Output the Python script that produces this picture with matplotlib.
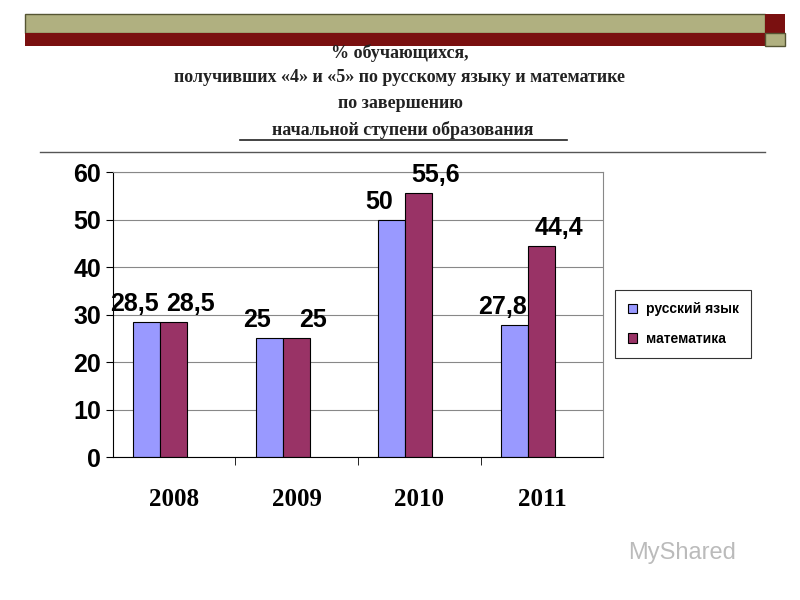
import matplotlib.pyplot as plt
from matplotlib.patches import Rectangle
import numpy as np

years = ['2008', '2009', '2010', '2011']
russian = [28.5, 25, 50, 27.8]
math = [28.5, 25, 55.6, 44.4]
russian_lbl = ['28,5', '25', '50', '27,8']
math_lbl = ['28,5', '25', '55,6', '44,4']

blue = '#9999FF'
red = '#993366'

fig = plt.figure(figsize=(8, 6), dpi=100)

# top decorative strip
deco = fig.add_axes([0, 0, 1, 1])
deco.set_xlim(0, 800)
deco.set_ylim(600, 0)
deco.axis('off')
deco.add_patch(Rectangle((25, 14), 740, 19, fc='#B0B080', ec='#555533', lw=1))
deco.add_patch(Rectangle((25, 33), 740, 13, fc='#7A1010', ec='none'))
deco.add_patch(Rectangle((765, 14), 20, 19, fc='#7A1010', ec='none'))
deco.add_patch(Rectangle((765, 33), 20, 13, fc='#B0B080', ec='#555533', lw=1))
deco.plot([40, 765], [152, 152], color='#555555', lw=1)

title_lines = ['% обучающихся,',
               'получивших «4» и «5» по русскому языку и математике',
               'по завершению']
for y, t in zip([53, 77, 104], title_lines):
    deco.text(400, y, t, ha='center', va='center', fontsize=13, fontweight='bold',
              family='Liberation Serif', color='#222222')
deco.text(403, 130, 'начальной ступени образования', ha='center', va='center',
          fontsize=13, fontweight='bold', family='Liberation Serif', color='#222222')
deco.plot([240, 567], [140, 140], color='#222222', lw=1.2)
deco.text(682, 553, 'MyShared', ha='center', va='center', fontsize=17, color='#BBBBBB',
          family='Liberation Sans')

ax = fig.add_axes([0.141, 0.238, 0.613, 0.475])
x = np.arange(len(years))
w = 0.22
off = -0.115
b1 = ax.bar(x - w + off, russian, w, color=blue, edgecolor='black', lw=0.8, align='edge')
b2 = ax.bar(x + off, math, w, color=red, edgecolor='black', lw=0.8, align='edge')
for i in range(len(years)):
    ax.text(x[i] + off - w / 2 - 0.1, russian[i] + 1.3, russian_lbl[i], ha='center', va='bottom',
            fontsize=18, fontweight='bold', family='Liberation Sans')
    ax.text(x[i] + off + w / 2 + 0.14, math[i] + 1.3, math_lbl[i], ha='center', va='bottom',
            fontsize=18, fontweight='bold', family='Liberation Sans')

ax.set_xlim(-0.5, 3.5)
ax.set_ylim(0, 60)
ax.set_yticks(range(0, 61, 10))
ax.set_xticks(x)
ax.set_xticklabels(years, fontsize=18, fontweight='bold', family='Liberation Serif')
ax.tick_params(axis='x', length=0, pad=22)
ax.set_xticks([0.5, 1.5, 2.5], minor=True)
ax.tick_params(axis='x', which='minor', length=6, direction='out')
for lab in ax.get_yticklabels():
    lab.set_fontsize(18)
    lab.set_fontweight('bold')
    lab.set_family('Liberation Sans')
ax.tick_params(axis='y', length=5, direction='out')
ax.yaxis.grid(True, color='#888888', lw=0.8)
ax.set_axisbelow(True)
for s in ax.spines.values():
    s.set_color('#888888')
ax.spines['left'].set_color('black')
ax.spines['bottom'].set_color('black')

leg = fig.legend([b1, b2], ['русский язык', 'математика'], loc='upper left',
                 bbox_to_anchor=(0.769, 0.517), borderaxespad=0, frameon=True, fancybox=False,
                 edgecolor='black', prop={'family': 'Liberation Sans', 'weight': 'bold', 'size': 10},
                 handlelength=0.7, handleheight=0.7, borderpad=0.9, labelspacing=1.1,
                 handletextpad=0.6)
leg.get_frame().set_linewidth(0.8)

fig.savefig('out.png', dpi=100)
